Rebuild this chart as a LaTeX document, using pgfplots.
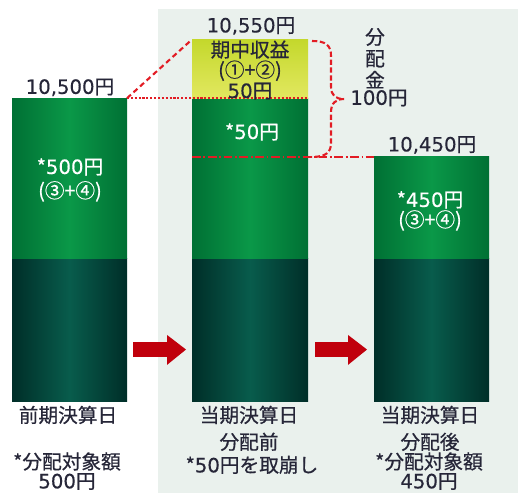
\documentclass[border=0pt]{standalone}
\usepackage{pgfplots}
\pgfplotsset{compat=1.18}
\usepackage{fontspec}
\setmainfont[FakeBold=0.6]{Noto Sans CJK JP}
\newfontfamily\numfontdv[FakeBold=0.4]{DejaVu Sans}
\newcommand{\NN}[1]{{\numfontdv #1}}
\definecolor{bg}{RGB}{234,241,237}
\definecolor{gEdge}{RGB}{0,112,52}
\definecolor{gMid}{RGB}{10,152,72}
\definecolor{dEdge}{RGB}{0,46,40}
\definecolor{dMid}{RGB}{8,92,76}
\definecolor{yTop}{RGB}{196,216,44}
\definecolor{yBot}{RGB}{226,232,96}
\definecolor{lred}{RGB}{226,28,36}
\definecolor{ared}{RGB}{192,0,12}
\definecolor{txt}{RGB}{38,38,56}
\begin{document}
\begin{tikzpicture}
\begin{axis}[scale only axis, width=10.36cm, height=9.86cm,
  xmin=0, xmax=518, ymin=10164, ymax=10583.6, hide axis, clip=false]
\coordinate (SW) at (rel axis cs:0,0);
\coordinate (NE) at (rel axis cs:1,1);
% background panel
\addplot[draw=none, fill=bg] coordinates {(158,10164) (518,10164) (518,10576) (158,10576)} -- cycle;
% bar 1
\addplot[draw=none, left color=dEdge, right color=dEdge, middle color=dMid] coordinates {(12,10242) (127,10242) (127,10364) (12,10364)} -- cycle;
\addplot[draw=none, left color=gEdge, right color=gEdge, middle color=gMid] coordinates {(12,10364) (127,10364) (127,10500) (12,10500)} -- cycle;
% bar 2
\addplot[draw=none, left color=dEdge, right color=dEdge, middle color=dMid] coordinates {(192,10242) (308,10242) (308,10364) (192,10364)} -- cycle;
\addplot[draw=none, left color=gEdge, right color=gEdge, middle color=gMid] coordinates {(192,10364) (308,10364) (308,10500) (192,10500)} -- cycle;
\addplot[draw=none, top color=yTop, bottom color=yBot] coordinates {(192,10500) (308,10500) (308,10550) (192,10550)} -- cycle;
% bar 3
\addplot[draw=none, left color=dEdge, right color=dEdge, middle color=dMid] coordinates {(374,10242) (489,10242) (489,10364) (374,10364)} -- cycle;
\addplot[draw=none, left color=gEdge, right color=gEdge, middle color=gMid] coordinates {(374,10364) (489,10364) (489,10450) (374,10450)} -- cycle;
% arrows
\addplot[draw=none, fill=ared] coordinates {(133,10279.8) (167,10279.8) (167,10273) (186,10286.1) (167,10298.5) (167,10292.5) (133,10292.5)} -- cycle;
\addplot[draw=none, fill=ared] coordinates {(315,10279.8) (348,10279.8) (348,10273) (367,10286.1) (348,10298.5) (348,10292.5) (315,10292.5)} -- cycle;
% red reference lines
\addplot[lred, line width=1.2pt, dash pattern=on 3pt off 2pt] coordinates {(127,10500) (192,10550)};
\addplot[lred, line width=1.3pt, dash pattern=on 1.2pt off 1pt] coordinates {(127,10500) (308,10500)};
\addplot[lred, line width=1.2pt, dash pattern=on 5pt off 1.5pt on 1pt off 1.5pt] coordinates {(192,10450) (374,10450)};
% brace
\draw[lred, line width=1.2pt, dash pattern=on 3pt off 1.5pt]
  (axis cs:312,10548.7) .. controls (axis cs:326,10548.7) and (axis cs:331,10545) .. (axis cs:331,10536)
  -- (axis cs:331,10510) .. controls (axis cs:331,10502) and (axis cs:336,10499.3) .. (axis cs:344,10499.3)
  .. controls (axis cs:336,10499.3) and (axis cs:331,10496) .. (axis cs:331,10488)
  -- (axis cs:331,10462) .. controls (axis cs:331,10454) and (axis cs:326,10450) .. (axis cs:312,10450);
% value labels
\begin{scope}[every node/.style={font=\fontsize{11.2}{10.2}\selectfont, text=txt, inner sep=0pt, align=center}]
\node at (axis cs:70,10509.2) {\NN{10,500}円};
\node at (axis cs:251,10561.5) {\NN{10,550}円};
\node at (axis cs:432,10460.2) {\NN{10,450}円};
\node at (axis cs:250,10524) {期中収益\\(①+②)\\\NN{50}円};
\node[font=\fontsize{11.2}{12.3}\selectfont] at (axis cs:375,10534) {分\\配\\金};
\node at (axis cs:379,10500.2) {\NN{100}円};
\node at (axis cs:68,10230.4) {前期決算日};
\node[font=\fontsize{11.2}{15.3}\selectfont] at (axis cs:249,10219) {当期決算日\\分配前};
\node[font=\fontsize{11.2}{15.3}\selectfont] at (axis cs:430,10219) {当期決算日\\分配後};
\node[font=\fontsize{11.2}{11}\selectfont] at (axis cs:67,10182.6) {*分配対象額\\\NN{500}円};
\node at (axis cs:252,10187.9) {*\NN{50}円を取崩し};
\node[font=\fontsize{11.2}{11}\selectfont] at (axis cs:429,10182.6) {*分配対象額\\\NN{450}円};
\node[text=white, font=\fontsize{11.2}{13.6}\selectfont] at (axis cs:70,10430.4) {*\NN{500}円\\(③+④)};
\node[text=white] at (axis cs:252,10471.3) {*\NN{50}円};
\node[text=white] at (axis cs:430,10404) {*\NN{450}円\\(③+④)};
\end{scope}
\end{axis}
\pgfresetboundingbox
\path (SW) rectangle (NE);
\end{tikzpicture}
\end{document}
